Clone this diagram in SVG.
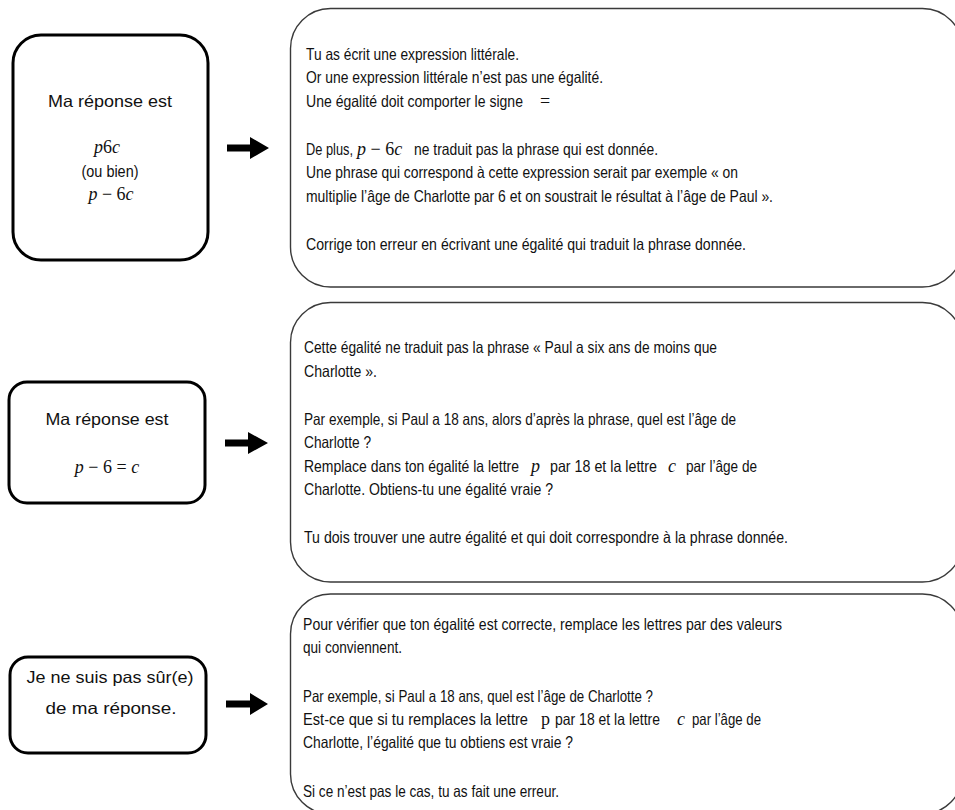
<svg xmlns="http://www.w3.org/2000/svg" width="955" height="810" viewBox="0 0 955 810">
<defs>
<style>
.bg{fill:#ffffff}
.lbox{fill:#ffffff;stroke:#000000;stroke-width:3}
.rbox{fill:#ffffff;stroke:#3a3a3a;stroke-width:1.4}
.t{font-family:"Liberation Sans","Noto Sans",sans-serif;font-size:16.5px;fill:#111111}
.tc{font-family:"Liberation Sans","Noto Sans",sans-serif;font-size:16.5px;fill:#111111;text-anchor:middle}
.m{font-family:"Liberation Serif","DejaVu Serif",serif;font-size:18px;fill:#111111;font-style:italic}
.mu{font-style:normal}
.arrow{fill:#000000}
</style>
</defs>
<rect class="bg" x="0" y="0" width="955" height="810"/>

<g id="q1">
<rect class="lbox" x="13" y="35" width="195" height="225" rx="28" ry="28"/>
<text class="tc" x="110" y="107" textLength="124" lengthAdjust="spacingAndGlyphs">Ma réponse est</text>
<text class="m" x="107" y="153" text-anchor="middle">p<tspan class="mu">6</tspan>c</text>
<text class="tc" x="110" y="177" textLength="57" lengthAdjust="spacingAndGlyphs">(ou bien)</text>
<text class="m" x="111" y="200" text-anchor="middle">p <tspan class="mu">− 6</tspan>c</text>
</g>

<g id="q2">
<rect class="lbox" x="9" y="382" width="196" height="121" rx="18" ry="18"/>
<text class="tc" x="107" y="425" textLength="123" lengthAdjust="spacingAndGlyphs">Ma réponse est</text>
<text class="m" x="107" y="473" text-anchor="middle">p <tspan class="mu">− 6 =</tspan> c</text>
</g>

<g id="q3">
<rect class="lbox" x="10" y="657" width="196" height="96" rx="18" ry="18"/>
<text class="tc" x="110" y="683" textLength="167" lengthAdjust="spacingAndGlyphs">Je ne suis pas sûr(e)</text>
<text class="tc" x="111" y="714" textLength="131" lengthAdjust="spacingAndGlyphs">de ma réponse.</text>
</g>

<g id="connectors">
<polygon class="arrow" points="227,144.5 250,144.5 250,137 269,148 250,159 250,151.5 227,151.5"/>
<polygon class="arrow" points="225,439.5 248,439.5 248,432 268,443 248,454 248,446.5 225,446.5"/>
<polygon class="arrow" points="226,700.5 250,700.5 250,693 268,704 250,715 250,707.5 226,707.5"/>
</g>

<g id="r1">
<rect class="rbox" x="290.5" y="8.5" width="672" height="278.5" rx="40" ry="40"/>
<text class="t" x="306" y="60" textLength="213" lengthAdjust="spacingAndGlyphs">Tu as écrit une expression littérale.</text>
<text class="t" x="306" y="83" textLength="297" lengthAdjust="spacingAndGlyphs">Or une expression littérale n’est pas une égalité.</text>
<text class="t" x="306" y="107" textLength="217" lengthAdjust="spacingAndGlyphs">Une égalité doit comporter le signe</text>
<text class="m mu" x="540" y="107">=</text>
<text class="t" x="306" y="155" textLength="47" lengthAdjust="spacingAndGlyphs">De plus,</text>
<text class="m" x="357" y="155">p <tspan class="mu">− 6</tspan>c</text>
<text class="t" x="414" y="155" textLength="244" lengthAdjust="spacingAndGlyphs">ne traduit pas la phrase qui est donnée.</text>
<text class="t" x="306" y="178" textLength="432" lengthAdjust="spacingAndGlyphs">Une phrase qui correspond à cette expression serait par exemple « on</text>
<text class="t" x="306" y="202" textLength="467" lengthAdjust="spacingAndGlyphs">multiplie l’âge de Charlotte par 6 et on soustrait le résultat à l’âge de Paul ».</text>
<text class="t" x="306" y="250" textLength="440" lengthAdjust="spacingAndGlyphs">Corrige ton erreur en écrivant une égalité qui traduit la phrase donnée.</text>
</g>

<g id="r2">
<rect class="rbox" x="290.5" y="302.5" width="672" height="279.5" rx="40" ry="40"/>
<text class="t" x="304" y="353" textLength="413" lengthAdjust="spacingAndGlyphs">Cette égalité ne traduit pas la phrase « Paul a six ans de moins que</text>
<text class="t" x="304" y="377" textLength="73" lengthAdjust="spacingAndGlyphs">Charlotte ».</text>
<text class="t" x="304" y="425" textLength="432" lengthAdjust="spacingAndGlyphs">Par exemple, si Paul a 18 ans, alors d’après la phrase, quel est l’âge de</text>
<text class="t" x="304" y="448" textLength="67" lengthAdjust="spacingAndGlyphs">Charlotte ?</text>
<text class="t" x="304" y="472" textLength="215" lengthAdjust="spacingAndGlyphs">Remplace dans ton égalité la lettre</text>
<text class="m" x="531" y="472">p</text>
<text class="t" x="550" y="472" textLength="107" lengthAdjust="spacingAndGlyphs">par 18 et la lettre</text>
<text class="m" x="668" y="472">c</text>
<text class="t" x="686" y="472" textLength="71" lengthAdjust="spacingAndGlyphs">par l’âge de</text>
<text class="t" x="304" y="495" textLength="249" lengthAdjust="spacingAndGlyphs">Charlotte. Obtiens-tu une égalité vraie ?</text>
<text class="t" x="304" y="543" textLength="484" lengthAdjust="spacingAndGlyphs">Tu dois trouver une autre égalité et qui doit correspondre à la phrase donnée.</text>
</g>

<g id="r3">
<rect class="rbox" x="290.5" y="594" width="672" height="220" rx="40" ry="40"/>
<text class="t" x="303" y="630" textLength="479" lengthAdjust="spacingAndGlyphs">Pour vérifier que ton égalité est correcte, remplace les lettres par des valeurs</text>
<text class="t" x="303" y="653" textLength="99" lengthAdjust="spacingAndGlyphs">qui conviennent.</text>
<text class="t" x="303" y="702" textLength="350" lengthAdjust="spacingAndGlyphs">Par exemple, si Paul a 18 ans, quel est l’âge de Charlotte ?</text>
<text class="t" x="303" y="725" textLength="225" lengthAdjust="spacingAndGlyphs">Est-ce que si tu remplaces la lettre</text>
<text class="m mu" x="541" y="725">p</text>
<text class="t" x="555" y="725" textLength="105" lengthAdjust="spacingAndGlyphs">par 18 et la lettre</text>
<text class="m" x="677" y="725">c</text>
<text class="t" x="692" y="725" textLength="69" lengthAdjust="spacingAndGlyphs">par l’âge de</text>
<text class="t" x="303" y="748" textLength="270" lengthAdjust="spacingAndGlyphs">Charlotte, l’égalité que tu obtiens est vraie ?</text>
<text class="t" x="303" y="797" textLength="256" lengthAdjust="spacingAndGlyphs">Si ce n’est pas le cas, tu as fait une erreur.</text>
</g>
</svg>
